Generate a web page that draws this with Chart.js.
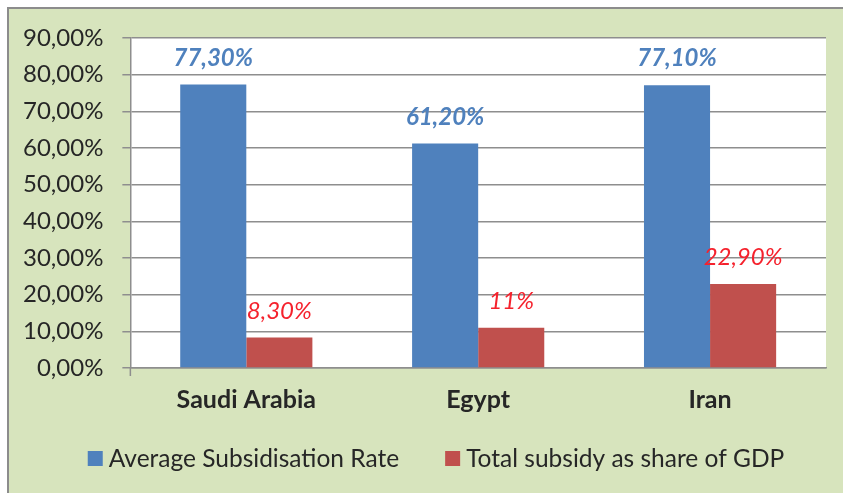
<!DOCTYPE html>
<html>
<head>
<meta charset="utf-8">
<script src="https://cdn.jsdelivr.net/npm/chart.js@4.4.1/dist/chart.umd.min.js"></script>
<style>
  html, body { margin: 0; padding: 0; background: #fff; }
  #wrap { width: 843px; height: 493px; }
</style>
</head>
<body>
<div id="wrap"><canvas id="subsidyChart" width="843" height="493"></canvas></div>
<script>
// Subsidy figures per country, in percent
const countries = ['Saudi Arabia', 'Egypt', 'Iran'];
const avgSubsidisationRate = [77.3, 61.2, 77.1];
const subsidyShareOfGdp = [8.3, 11, 22.9];
const seriesNames = ['Average Subsidisation Rate', 'Total subsidy as share of GDP'];
const yMax = 90;
const yStep = 10;

const FONT = 'Lato, "Open Sans", sans-serif';
const TEXT = '#262626';
const GRID = '#8e8e8e';

// 77.3 -> "77,30%", 11 -> "11%"
function pct(v, fixed) {
    if (!fixed && Number.isInteger(v)) return v + '%';
    return v.toFixed(2).replace('.', ',') + '%';
}

// Green panel behind everything, white plot area
const panelBackground = {
    id: 'panelBackground',
    beforeDraw(chart) {
        const { ctx, chartArea } = chart;
        ctx.save();
        ctx.fillStyle = '#ffffff';
        ctx.fillRect(0, 0, chart.width, chart.height);
        ctx.fillStyle = '#d7e4bd';
        ctx.fillRect(8, 8, chart.width, chart.height);
        ctx.strokeStyle = '#8c8c8c';
        ctx.lineWidth = 2;
        ctx.strokeRect(8, 8, chart.width + 10, chart.height + 10);
        ctx.fillStyle = '#ffffff';
        ctx.fillRect(chartArea.left, chartArea.top,
            chartArea.right - chartArea.left, chartArea.bottom - chartArea.top);
        ctx.restore();
    },
    afterDraw(chart) {
        // small cross tick where the two axes meet
        const { ctx, chartArea } = chart;
        ctx.save();
        ctx.strokeStyle = GRID;
        ctx.lineWidth = 1.5;
        ctx.beginPath();
        ctx.moveTo(chartArea.left, chartArea.bottom);
        ctx.lineTo(chartArea.left, chartArea.bottom + 8);
        ctx.stroke();
        ctx.restore();
    }
};

// Value labels above each bar
const barValues = {
    id: 'barValues',
    afterDatasetsDraw(chart) {
        const ctx = chart.ctx;
        chart.data.datasets.forEach((ds, i) => {
            const meta = chart.getDatasetMeta(i);
            meta.data.forEach((bar, j) => {
                ctx.save();
                ctx.font = ds.valueFont;
                ctx.fillStyle = ds.valueColor;
                ctx.textAlign = 'center';
                ctx.textBaseline = 'alphabetic';
                ctx.fillText(pct(ds.data[j]), bar.x, bar.y - 19);
                ctx.restore();
            });
        });
    }
};

// Legend row under the category labels, centred a little left of the plot
const bottomLegend = {
    id: 'bottomLegend',
    afterDraw(chart) {
        const ctx = chart.ctx;
        const box = 15, gapText = 6, gapItem = 46, centre = 436, baseline = 467;
        ctx.save();
        ctx.font = '24.5px ' + FONT;
        const items = chart.data.datasets.map(ds => ({
            text: ds.label, color: ds.backgroundColor, w: ctx.measureText(ds.label).width
        }));
        let total = -gapItem;
        items.forEach(it => { total += box + gapText + it.w + gapItem; });
        let x = centre - total / 2;
        ctx.textBaseline = 'alphabetic';
        ctx.textAlign = 'left';
        items.forEach(it => {
            ctx.fillStyle = it.color;
            ctx.fillRect(x, baseline - box - 1, box, box);
            ctx.fillStyle = TEXT;
            ctx.fillText(it.text, x + box + gapText, baseline);
            x += box + gapText + it.w + gapItem;
        });
        ctx.restore();
    }
};

const ctx = document.getElementById('subsidyChart').getContext('2d');

new Chart(ctx, {
    type: 'bar',
    data: {
        labels: countries,
        datasets: [
            {
                label: seriesNames[0],
                data: avgSubsidisationRate,
                backgroundColor: '#4f81bd',
                valueColor: '#4f81bd',
                valueFont: 'italic bold 24px ' + FONT
            },
            {
                label: seriesNames[1],
                data: subsidyShareOfGdp,
                backgroundColor: '#c0504d',
                valueColor: '#f5222d',
                valueFont: 'italic 24px ' + FONT
            }
        ]
    },
    options: {
        responsive: false,
        animation: false,
        layout: {
            padding: { left: 4, right: 17, top: 38, bottom: 69 }
        },
        datasets: {
            bar: {
                barPercentage: 1,
                categoryPercentage: 0.57
            }
        },
        plugins: {
            legend: { display: false },
            tooltip: { enabled: false }
        },
        scales: {
            x: {
                grid: { display: false },
                border: { display: true, color: GRID, width: 1.5 },
                ticks: {
                    color: TEXT,
                    padding: 9,
                    font: { family: FONT, size: 25, weight: 'bold' }
                }
            },
            y: {
                min: 0,
                max: yMax,
                grid: {
                    color: GRID,
                    lineWidth: 1.5,
                    tickLength: 8
                },
                border: { display: true, color: GRID, width: 1.5 },
                ticks: {
                    stepSize: yStep,
                    color: TEXT,
                    padding: 19,
                    font: { family: FONT, size: 24 },
                    callback: v => pct(v, true)
                }
            }
        }
    },
    plugins: [panelBackground, barValues, bottomLegend]
});
</script>
</body>
</html>
